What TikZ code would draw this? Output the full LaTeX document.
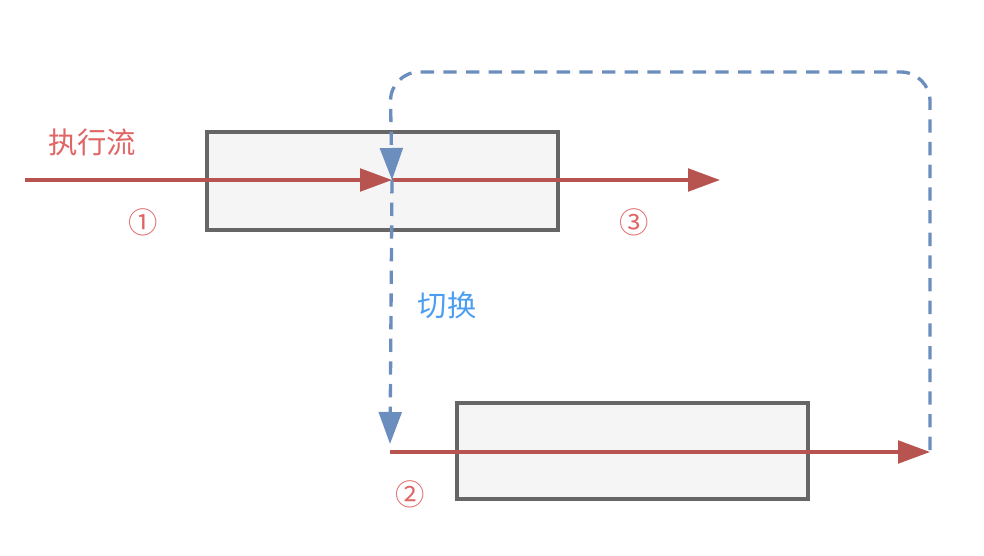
\documentclass[tikz,border=0pt]{standalone}
\usepackage{fontspec}
\newfontfamily\cjk{Noto Sans CJK SC}
\usetikzlibrary{arrows.meta}
\definecolor{redc}{HTML}{B85450}
\definecolor{redt}{HTML}{E06666}
\definecolor{bluec}{HTML}{6C8EBF}
\definecolor{bluet}{HTML}{4C9EF0}
\definecolor{boxf}{HTML}{F5F5F5}
\definecolor{boxd}{HTML}{666666}
\tikzset{
  x=0.75pt,y=-0.75pt,
  blockbox/.style={draw=boxd,fill=boxf,line width=3pt},
  flow/.style={draw=redc,line width=2.5pt,-{Triangle[length=24pt,width=17pt]}},
  sw/.style={draw=bluec,line width=2.5pt,dash pattern=on 10pt off 7pt,-{Triangle[length=24pt,width=17pt]}},
  lbl/.style={font=\cjk\fontsize{22}{26}\selectfont,inner sep=0pt},
}
\begin{document}
\begin{tikzpicture}
\useasboundingbox (0,0) rectangle (984,556);
\draw[blockbox] (207,132) rectangle (558,230);
\draw[blockbox] (457,403) rectangle (808,499);
\coordinate (s1) at (25,180);
\coordinate (m1) at (392,180);
\coordinate (e1) at (720,180);
\coordinate (s2) at (390,452);
\coordinate (e2) at (930,452);
\coordinate (d2) at (390,444);
\draw[flow] (s1) -- (m1);
\draw[flow] (m1) -- (e1);
\draw[flow] (s2) -- (e2);
\draw[sw,rounded corners=22pt] (930,450) -- (930,72) -- (390,72) -- (m1);
\draw[sw] (m1) -- (d2);
\node[lbl,text=redt] (t1) at (92,142) {执行流};
\node[lbl,text=redt] (c1) at (143,222) {①};
\node[lbl,text=redt] (c3) at (634,222) {③};
\node[lbl,text=redt] (c2) at (410,494) {②};
\node[lbl,text=bluet] (t2) at (447,305) {切换};
\end{tikzpicture}
\end{document}
